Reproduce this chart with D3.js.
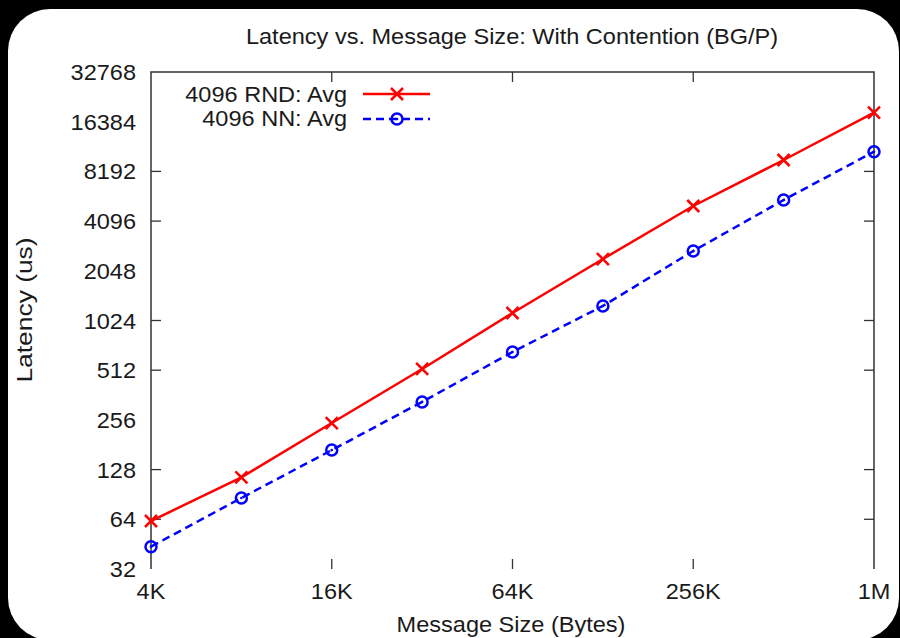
<!DOCTYPE html>
<html>
<head>
<meta charset="utf-8">
<script src="https://cdn.jsdelivr.net/npm/d3@7"></script>
<style>
  html, body { margin: 0; padding: 0; background: #000; }
  svg { display: block; }
  text { font-family: "Liberation Sans", Arial, Helvetica, sans-serif; fill: #1a1a1a; }
</style>
</head>
<body>
<svg id="chart" width="900" height="638"></svg>
<script>
// ---- data ----
const messageSizes = [4096, 8192, 16384, 32768, 65536, 131072, 262144, 524288, 1048576];
const rndAvg = [62.5, 115, 245, 521, 1137, 2414, 5056, 9604, 18576];
const nnAvg  = [43.7, 86.2, 168, 329, 660, 1254, 2699, 5498, 10780];
const seriesNames = ["4096 RND: Avg", "4096 NN: Avg"];
const yTickValues = [32, 64, 128, 256, 512, 1024, 2048, 4096, 8192, 16384, 32768];
const yTickMarks = [64, 128, 512, 1024, 4096, 8192];
const xTickValues = [4096, 16384, 65536, 262144, 1048576];
const xTickLabels = ["4K", "16K", "64K", "256K", "1M"];
const titleText = "Latency vs. Message Size: With Contention (BG/P)";
const xLabel = "Message Size (Bytes)";
const yLabel = "Latency (us)";

const svg = d3.select("#chart");
const W = 900, H = 638;

// rounded white panel on black
svg.append("rect").attr("x", 0).attr("y", 0).attr("width", W).attr("height", H).attr("fill", "#000");
svg.append("rect").attr("x", 8).attr("y", 9).attr("width", 891).attr("height", 631)
  .attr("rx", 42).attr("ry", 42).attr("fill", "#fff");

const L = 151, R = 874, T = 72, B = 569;
const x = d3.scaleLog().base(2).domain([4096, 1048576]).range([L, R]);
const y = d3.scaleLog().base(2).domain([32, 32768]).range([B, T]);

const axisColor = "#333";
const fontSize = 22;
const stretch = 1.07;

function txt(parent, tx, ty, s, anchor, size, sx, rot) {
  return parent.append("text")
    .attr("transform", `translate(${tx},${ty})${rot ? " rotate(" + rot + ")" : ""} scale(${sx || stretch},1)`)
    .attr("text-anchor", anchor).attr("font-size", size || fontSize)
    .text(s);
}

// frame (left, top, right; no bottom line)
svg.append("path")
  .attr("d", `M${L},${B}V${T}H${R}V${B}`)
  .attr("fill", "none").attr("stroke", axisColor).attr("stroke-width", 1.5);

// y tick marks left and right
const tickLen = 10;
svg.append("g").selectAll("line").data(yTickMarks).join("line")
  .attr("x1", L).attr("x2", L + tickLen)
  .attr("y1", d => y(d)).attr("y2", d => y(d))
  .attr("stroke", axisColor).attr("stroke-width", 1.3);
svg.append("g").selectAll("line").data(yTickMarks).join("line")
  .attr("x1", R).attr("x2", R - tickLen)
  .attr("y1", d => y(d)).attr("y2", d => y(d))
  .attr("stroke", axisColor).attr("stroke-width", 1.3);

// x tick marks bottom and top (interior ones)
const innerX = xTickValues.slice(1, -1);
svg.append("g").selectAll("line").data(innerX).join("line")
  .attr("x1", d => x(d)).attr("x2", d => x(d))
  .attr("y1", B).attr("y2", B - tickLen)
  .attr("stroke", axisColor).attr("stroke-width", 1.3);
svg.append("g").selectAll("line").data(innerX).join("line")
  .attr("x1", d => x(d)).attr("x2", d => x(d))
  .attr("y1", T).attr("y2", T + tickLen)
  .attr("stroke", axisColor).attr("stroke-width", 1.3);

// y tick labels
const gy = svg.append("g");
yTickValues.forEach(v => txt(gy, 136, y(v) + 8, String(v), "end"));

// x tick labels
const gx = svg.append("g");
xTickValues.forEach((v, i) => txt(gx, x(v), 599, xTickLabels[i], "middle"));

// title and axis labels
txt(svg, 512, 44, titleText, "middle", 22);
txt(svg, 511, 632, xLabel, "middle");
txt(svg, 32, 310, yLabel, "middle", 22, 1.2, -90);

// series
const red = "#ff0000", blue = "#0000ff";
const line = d3.line().x(d => x(d[0])).y(d => y(d[1]));
const rndPts = messageSizes.map((s, i) => [s, rndAvg[i]]);
const nnPts = messageSizes.map((s, i) => [s, nnAvg[i]]);

svg.append("path").datum(rndPts).attr("d", line)
  .attr("fill", "none").attr("stroke", red).attr("stroke-width", 2.5);
svg.append("path").datum(nnPts).attr("d", line)
  .attr("fill", "none").attr("stroke", blue).attr("stroke-width", 2.5)
  .attr("stroke-dasharray", "8,5");

function cross(g, cx, cy) {
  const s = 6;
  g.append("path").attr("d", `M${cx - s},${cy - s}L${cx + s},${cy + s}M${cx - s},${cy + s}L${cx + s},${cy - s}`)
    .attr("stroke", red).attr("stroke-width", 2.5).attr("fill", "none");
}
function circ(g, cx, cy) {
  g.append("circle").attr("cx", cx).attr("cy", cy).attr("r", 5.5)
    .attr("fill", "none").attr("stroke", blue).attr("stroke-width", 2.5);
  g.append("circle").attr("cx", cx).attr("cy", cy).attr("r", 1.3).attr("fill", blue);
}
const gm = svg.append("g");
rndPts.forEach(p => cross(gm, x(p[0]), y(p[1])));
nnPts.forEach(p => circ(gm, x(p[0]), y(p[1])));

// legend
const lg = svg.append("g");
txt(lg, 347, 102, seriesNames[0], "end");
txt(lg, 347, 126, seriesNames[1], "end");
lg.append("line").attr("x1", 363).attr("x2", 430).attr("y1", 94).attr("y2", 94)
  .attr("stroke", red).attr("stroke-width", 2.5);
cross(lg, 397, 94);
lg.append("line").attr("x1", 363).attr("x2", 430).attr("y1", 119).attr("y2", 119)
  .attr("stroke", blue).attr("stroke-width", 2.5).attr("stroke-dasharray", "8,5");
circ(lg, 397, 119);
</script>
</body>
</html>
